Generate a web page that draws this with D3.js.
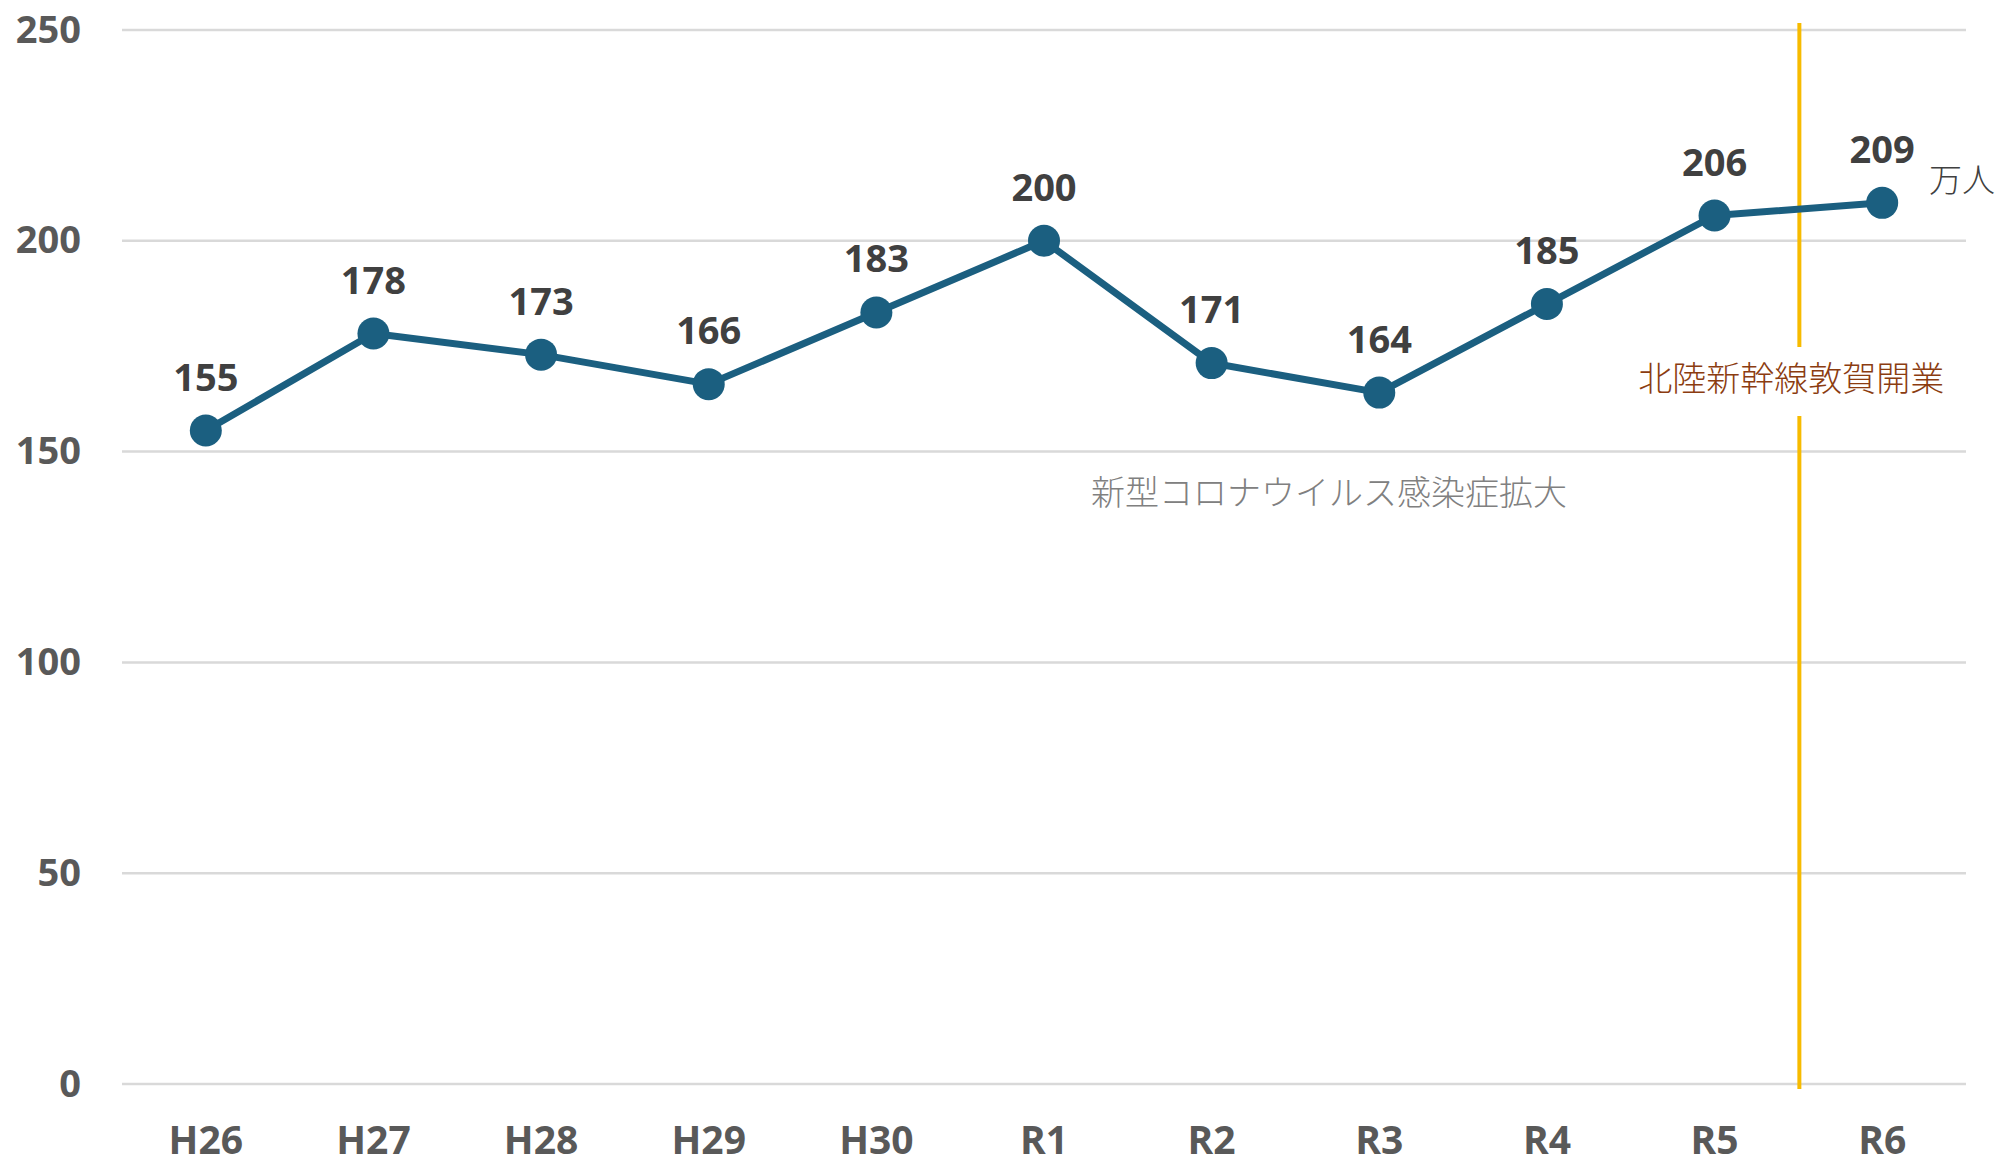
<!DOCTYPE html>
<html>
<head>
<meta charset="utf-8">
<script src="https://cdn.jsdelivr.net/npm/d3@7"></script>
<style>
  body { margin: 0; background: #fff; }
  svg { display: block; }
</style>
</head>
<body>
<div id="chart"></div>
<script>
(function () {
    var width = 2001, height = 1159;

    // data
    var years = ['H26', 'H27', 'H28', 'H29', 'H30', 'R1', 'R2', 'R3', 'R4', 'R5', 'R6'];
    var visitors = [155, 178, 173, 166, 183, 200, 171, 164, 185, 206, 209];
    var yTicks = [0, 50, 100, 150, 200, 250];

    var left = 122, right = 1966, top = 30, bottom = 1084;

    var svg = d3.select("#chart")
        .append("svg")
        .attr("width", width)
        .attr("height", height);

    var x = d3.scaleBand().domain(years).range([left, right]);
    var y = d3.scaleLinear().domain([0, 250]).range([bottom, top]);

    var cx = function (d) { return x(d) + x.bandwidth() / 2; };

    // gridlines
    svg.append("g")
        .selectAll("line")
        .data(yTicks)
        .enter().append("line")
        .attr("x1", left)
        .attr("x2", right)
        .attr("y1", function (d) { return y(d); })
        .attr("y2", function (d) { return y(d); })
        .attr("stroke", "#d9d9d9")
        .attr("stroke-width", 2.5);

    // y axis labels
    var yAxis = svg.append("g")
        .attr("transform", "translate(81,0)")
        .call(d3.axisLeft(y).tickValues(yTicks).tickSize(0).tickPadding(0));
    yAxis.select(".domain").remove();
    yAxis.selectAll("text")
        .attr("font-family", "Open Sans")
        .attr("font-weight", "bold")
        .attr("font-size", 38)
        .attr("fill", "#595959");

    // x axis labels
    var xAxis = svg.append("g")
        .attr("transform", "translate(0,1126)")
        .call(d3.axisBottom(x).tickSize(0).tickPadding(0));
    xAxis.select(".domain").remove();
    xAxis.selectAll("text")
        .attr("font-family", "Open Sans")
        .attr("font-weight", "bold")
        .attr("font-size", 39)
        .attr("fill", "#595959");

    // 敦賀開業 marker line (between R5 and R6)
    var markX = (cx('R5') + cx('R6')) / 2 + 1;
    svg.append("line")
        .attr("x1", markX).attr("x2", markX)
        .attr("y1", 23).attr("y2", 347)
        .attr("stroke", "#f7bb00").attr("stroke-width", 4);
    svg.append("line")
        .attr("x1", markX).attr("x2", markX)
        .attr("y1", 416).attr("y2", 1089)
        .attr("stroke", "#f7bb00").attr("stroke-width", 4);

    svg.append("text")
        .attr("x", markX - 8)
        .attr("y", 379)
        .attr("dy", "0.35em")
        .attr("text-anchor", "middle")
        .attr("font-family", "Noto Sans CJK JP")
        .attr("font-weight", 300)
        .attr("font-size", 34)
        .attr("fill", "#8b3c10")
        .text("北陸新幹線敦賀開業");

    svg.append("text")
        .attr("x", 1329)
        .attr("y", 493)
        .attr("dy", "0.35em")
        .attr("text-anchor", "middle")
        .attr("font-family", "Noto Sans CJK JP")
        .attr("font-weight", 300)
        .attr("font-size", 34)
        .attr("fill", "#808080")
        .text("新型コロナウイルス感染症拡大");

    // line
    var line = d3.line()
        .x(function (d, i) { return cx(years[i]); })
        .y(function (d) { return y(d); });

    svg.append("path")
        .datum(visitors)
        .attr("d", line)
        .attr("fill", "none")
        .attr("stroke", "#1b5f80")
        .attr("stroke-width", 7)
        .attr("stroke-linejoin", "round");

    svg.selectAll(".dot")
        .data(visitors)
        .enter().append("circle")
        .attr("class", "dot")
        .attr("cx", function (d, i) { return cx(years[i]); })
        .attr("cy", function (d) { return y(d); })
        .attr("r", 16)
        .attr("fill", "#1b5f80");

    svg.selectAll(".val")
        .data(visitors)
        .enter().append("text")
        .attr("class", "val")
        .attr("x", function (d, i) { return cx(years[i]); })
        .attr("y", function (d) { return y(d) - 40; })
        .attr("text-anchor", "middle")
        .attr("font-family", "Open Sans")
        .attr("font-weight", "bold")
        .attr("font-size", 38)
        .attr("fill", "#404040")
        .text(function (d) { return d; });

    // unit
    svg.append("text")
        .attr("x", 1929)
        .attr("y", 180)
        .attr("dy", "0.35em")
        .attr("font-family", "Noto Sans CJK JP")
        .attr("font-weight", 300)
        .attr("font-size", 33)
        .attr("fill", "#404040")
        .text("万人");
})();
</script>
</body>
</html>
